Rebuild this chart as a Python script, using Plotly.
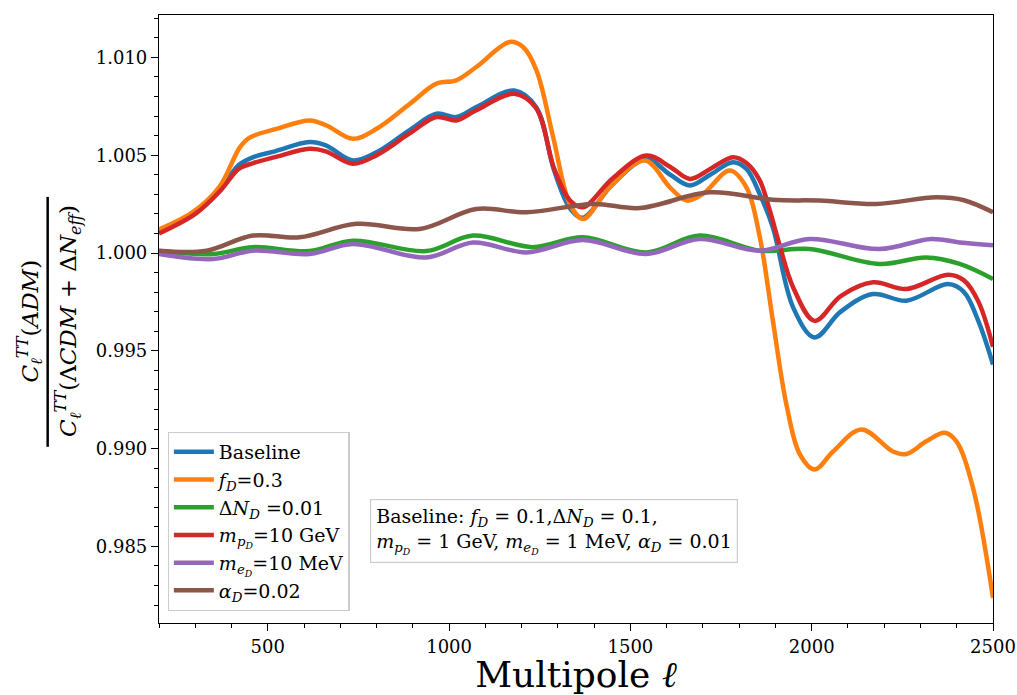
import plotly.graph_objects as go

# ---------------- data ----------------
ell_base = [200, 300, 370, 420, 460, 520, 615, 660, 735, 800, 890, 965, 1020, 1075, 1180, 1240,
            1290, 1333, 1369, 1450, 1544, 1610, 1664, 1720, 1783, 1820, 1857, 1893, 1949, 2008,
            2080, 2169, 2261, 2376, 2420, 2460, 2500]
val_base = [1.0011, 1.0021, 1.0033, 1.0045, 1.0049, 1.0052, 1.00567, 1.0055, 1.00473, 1.00515,
            1.00627, 1.00712, 1.00695, 1.00746, 1.00831, 1.00746, 1.0042, 1.0023, 1.0018, 1.0035,
            1.0048, 1.0040, 1.00345, 1.0040, 1.00464, 1.0043, 1.0030, 1.0013, 0.99721, 0.99568,
            0.9970, 0.9979, 0.99756, 0.99841, 0.9980, 0.9965, 0.9943]

ell_fd = [200, 294, 367, 423, 450, 524, 616, 662, 735, 800, 892, 965, 1020, 1075, 1167, 1204, 1241,
          1287, 1333, 1369, 1443, 1540, 1609, 1655, 1700, 1774, 1820, 1857, 1893, 1930, 1967, 2008,
          2059, 2137, 2224, 2261, 2316, 2367, 2399, 2445, 2500]
val_fd = [1.0012, 1.0021, 1.0034, 1.0054, 1.0059, 1.00635, 1.00678, 1.00652, 1.00584, 1.00635,
          1.00763, 1.00866, 1.00883, 1.00951, 1.01079, 1.01053, 1.00934, 1.00592, 1.00251, 1.00174,
          1.00336, 1.00473, 1.00336, 1.00268, 1.00302, 1.00422, 1.00336, 1.0008, 0.99653, 0.99228,
          0.98972, 0.98893, 0.98985, 0.99098, 0.98985, 0.98972, 0.99037, 0.99081, 0.99037, 0.98798,
          0.98236]

ell_dn = [200, 349, 459, 615, 735, 937, 1066, 1231, 1369, 1544, 1691, 1857, 1994, 2187, 2316, 2408, 2500]
val_dn = [1.0001, 0.99995, 1.0003, 1.0001, 1.00063, 1.0001, 1.00089, 1.0003, 1.0008, 1.00003,
          1.00089, 1.00012, 1.0002, 0.99944, 0.99977, 0.99944, 0.99867]

ell_mp = [200, 300, 370, 420, 460, 520, 615, 660, 735, 800, 890, 965, 1020, 1075, 1180, 1240,
          1290, 1333, 1369, 1450, 1544, 1610, 1664, 1720, 1783, 1820, 1857, 1884, 1910, 1949, 2008,
          2080, 2169, 2261, 2376, 2420, 2460, 2500]
val_mp = [1.0010, 1.0020, 1.0032, 1.0043, 1.0046, 1.0049, 1.00533, 1.0052, 1.00456, 1.0050,
          1.0061, 1.00695, 1.00678, 1.0073, 1.00814, 1.0074, 1.0043, 1.0027, 1.00234, 1.0038,
          1.00498, 1.0044, 1.00379, 1.0043, 1.0049, 1.0046, 1.0037, 1.0022, 1.0005, 0.99824, 0.99653,
          0.9978, 0.9985, 0.99816, 0.99889, 0.9986, 0.9975, 0.9952]

ell_me = [200, 349, 459, 615, 735, 937, 1066, 1213, 1369, 1544, 1691, 1857, 1994, 2187, 2330, 2408, 2500]
val_me = [0.99995, 0.99969, 1.00012, 0.99995, 1.00046, 0.99977, 1.00054, 1.00003, 1.00066, 0.99995,
          1.00072, 1.00012, 1.00072, 1.0002, 1.00072, 1.00054, 1.0004]

ell_ad = [200, 331, 459, 588, 744, 919, 1075, 1213, 1397, 1526, 1719, 1893, 2022, 2178, 2344, 2420, 2500]
val_ad = [1.00012, 1.00012, 1.00089, 1.0008, 1.00149, 1.00123, 1.00225, 1.00208, 1.00251, 1.0023,
          1.0031, 1.00272, 1.00268, 1.00251, 1.00285, 1.0027, 1.00208]

names = ["Baseline",
         "<i>f</i><sub><i>D</i></sub>=0.3",
         "Δ<i>N</i><sub><i>D</i></sub> =0.01",
         "<i>m</i><sub><i>p</i><sub><i>D</i></sub></sub>=10 GeV",
         "<i>m</i><sub><i>e</i><sub><i>D</i></sub></sub>=10 MeV",
         "<i>α</i><sub><i>D</i></sub>=0.02"]
colors = ["#1f77b4", "#ff7f0e", "#2ca02c", "#d62728", "#9467bd", "#8c564b"]
series = [(ell_base, val_base), (ell_fd, val_fd), (ell_dn, val_dn),
          (ell_mp, val_mp), (ell_me, val_me), (ell_ad, val_ad)]

x_ticks = [500, 1000, 1500, 2000, 2500]
y_ticks = [0.985, 0.990, 0.995, 1.000, 1.005, 1.010]

FONT = "DejaVu Serif"

fig = go.Figure()
for i, ((xs, ys), nm, c) in enumerate(zip(series, names, colors)):
    fig.add_trace(go.Scatter(x=xs, y=ys, mode="lines", name=nm, legendgroup=f"g{i}",
                             line=dict(color=c, width=4.5, shape="spline", smoothing=1.0)))

axis_common = dict(showline=True, linecolor="black", linewidth=1.2, mirror=True,
                   ticks="outside", ticklen=7, tickwidth=1.2, tickcolor="black",
                   showgrid=False, zeroline=False, automargin=False,
                   tickfont=dict(family=FONT, size=18, color="black"))

fig.update_xaxes(range=[200, 2500], tickvals=x_ticks, ticktext=[str(v) for v in x_ticks],
                 minor=dict(dtick=100, tick0=0, ticks="outside", ticklen=3.5, tickcolor="black", tickwidth=1),
                 title=dict(text="Multipole <i>ℓ</i>", font=dict(family=FONT, size=36, color="black"),
                            standoff=11),
                 **axis_common)
fig.update_yaxes(range=[0.98108, 1.01217], tickvals=y_ticks, ticktext=[f"{v:.3f}" for v in y_ticks],
                 minor=dict(dtick=0.001, tick0=0.98, ticks="outside", ticklen=3.5, tickcolor="black", tickwidth=1),
                 **axis_common)

# y-axis label as a rotated fraction
fig.add_annotation(xref="paper", yref="paper", x=-0.155, y=0.497, textangle=-90,
                   text="<i>C</i><sub><i>ℓ</i></sub><sup><i>TT</i></sup>(<i>ADM</i>)",
                   showarrow=False, font=dict(family=FONT, size=23, color="black"),
                   xanchor="center", yanchor="middle")
fig.add_annotation(xref="paper", yref="paper", x=-0.109, y=0.497, textangle=-90,
                   text="<i>C</i><sub><i>ℓ</i></sub><sup><i>TT</i></sup>(Λ<i>CDM</i> + Δ<i>N</i><sub><i>eff</i></sub>)",
                   showarrow=False, font=dict(family=FONT, size=23, color="black"),
                   xanchor="center", yanchor="middle")
fig.add_shape(type="line", xref="paper", yref="paper", x0=-0.1335, x1=-0.1335, y0=0.2898, y1=0.7008,
              line=dict(color="black", width=2.5))

# parameter box
fig.add_annotation(xref="paper", yref="paper", x=0.2528, y=0.2043, xanchor="left", yanchor="top",
                   align="left", showarrow=False,
                   text="Baseline: <i>f</i><sub><i>D</i></sub> = 0.1,Δ<i>N</i><sub><i>D</i></sub> = 0.1,<br>"
                        "<i>m</i><sub><i>p</i><sub><i>D</i></sub></sub> = 1 GeV, "
                        "<i>m</i><sub><i>e</i><sub><i>D</i></sub></sub> = 1 MeV, "
                        "<i>α</i><sub><i>D</i></sub> = 0.01",
                   font=dict(family=FONT, size=19, color="black"),
                   bordercolor="#cccccc", borderwidth=1.2, borderpad=5, bgcolor="white")

fig.update_layout(
    width=1017, height=695,
    margin=dict(l=159, r=24, t=15, b=72),
    paper_bgcolor="white", plot_bgcolor="white",
    font=dict(family=FONT, color="black"),
    legend=dict(x=0.0104, y=0.3145, xanchor="left", yanchor="top",
                font=dict(family=FONT, size=19, color="black"),
                bordercolor="#cccccc", borderwidth=1.2, bgcolor="rgba(255,255,255,0.8)",
                tracegroupgap=0, itemwidth=40),
    showlegend=True,
)

fig.write_html("out.html")
